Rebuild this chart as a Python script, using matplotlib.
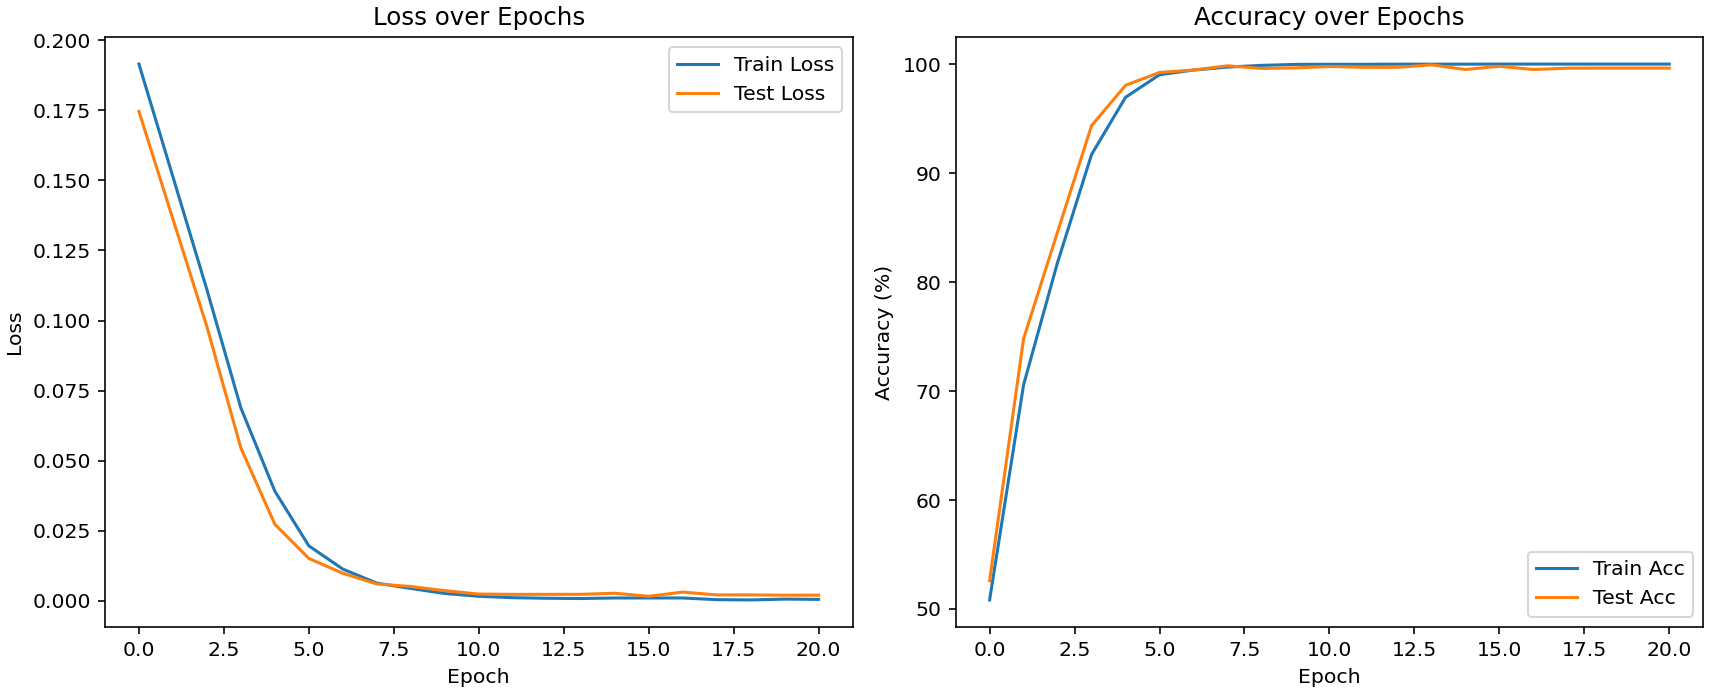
import matplotlib
matplotlib.use("Agg")
import matplotlib.pyplot as plt

# values
epochs = list(range(21))
train_loss = [0.1915, 0.1513, 0.1110, 0.0688, 0.0391, 0.0196, 0.0113, 0.0063,
              0.0044, 0.0026, 0.0016, 0.0011, 0.0009, 0.0008, 0.0010, 0.0010,
              0.0010, 0.0004, 0.0003, 0.0006, 0.0005]
test_loss = [0.1746, 0.1362, 0.0978, 0.0545, 0.0273, 0.0151, 0.0098, 0.0060,
             0.0051, 0.0036, 0.0024, 0.0023, 0.0023, 0.0023, 0.0027, 0.0016,
             0.0031, 0.0021, 0.0021, 0.0020, 0.0020]
train_acc = [50.83, 70.57, 81.8, 91.7, 96.95, 99.02, 99.45, 99.72, 99.88,
             99.97, 99.98, 99.98, 99.99, 99.99, 99.99, 100.0, 100.0, 100.0,
             100.0, 100.0, 100.0]
test_acc = [52.6, 74.8, 84.6, 94.35, 98.05, 99.23, 99.45, 99.84, 99.6, 99.65,
            99.78, 99.7, 99.7, 99.93, 99.5, 99.8, 99.5, 99.62, 99.63, 99.63,
            99.63]

dpi = 147
fig, (ax1, ax2) = plt.subplots(1, 2, figsize=(1712 / dpi, 698 / dpi), dpi=dpi)
fig.subplots_adjust(left=0.0613, right=0.9949, bottom=0.1021, top=0.9466,
                    wspace=0.1378)

ax1.plot(epochs, train_loss, label="Train Loss")
ax1.plot(epochs, test_loss, label="Test Loss")
ax1.set_title("Loss over Epochs")
ax1.set_xlabel("Epoch")
ax1.set_ylabel("Loss")
ax1.legend(loc="upper right")

ax2.plot(epochs, train_acc, label="Train Acc")
ax2.plot(epochs, test_acc, label="Test Acc")
ax2.set_title("Accuracy over Epochs")
ax2.set_xlabel("Epoch")
ax2.set_ylabel("Accuracy (%)")
ax2.legend(loc="lower right")

fig.savefig("out.png", dpi=dpi)
